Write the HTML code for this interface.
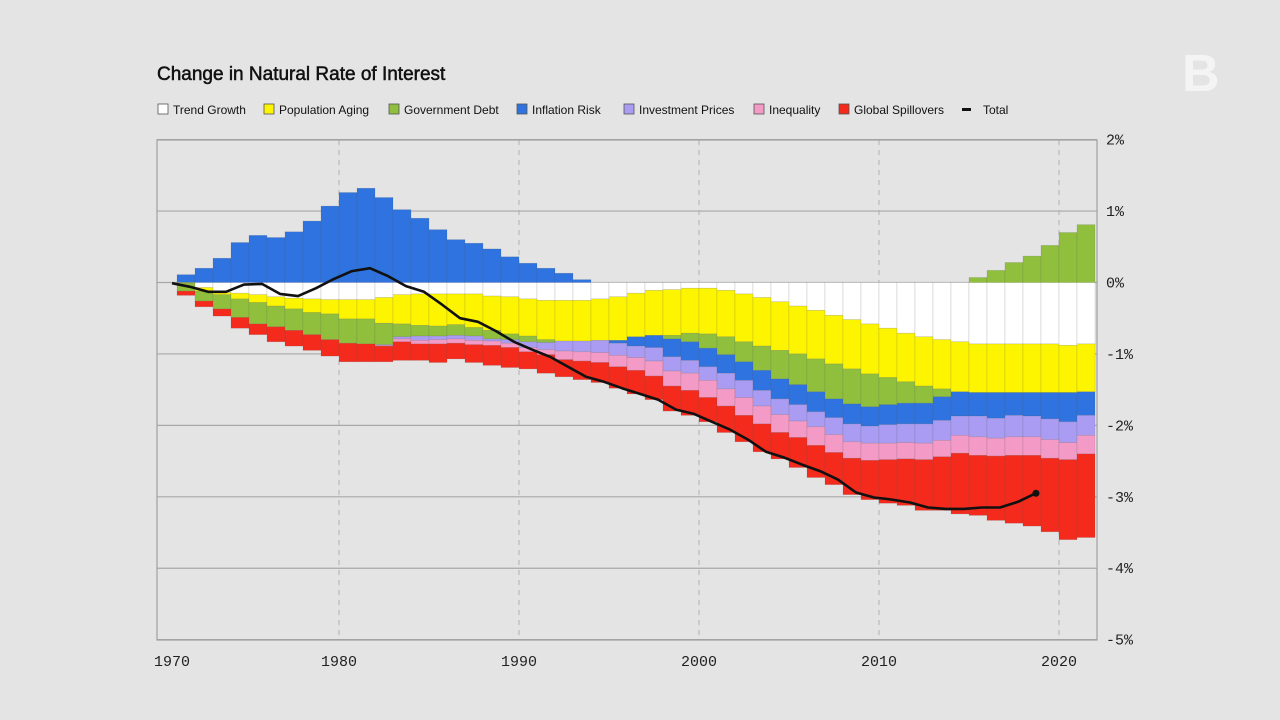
<!DOCTYPE html>
<html><head><meta charset="utf-8">
<style>
html,body{margin:0;padding:0;background:#e4e4e4;}
body{width:1280px;height:720px;overflow:hidden;position:relative;font-family:"Liberation Sans",sans-serif;}
svg{position:absolute;left:0;top:0;}
</style></head>
<body>
<svg id="chart" width="1280" height="720">
  <rect x="0" y="0" width="1280" height="720" fill="#e4e4e4"/>
  <text x="157" y="80" font-size="19" fill="#111" stroke="#111" stroke-width="0.5" font-family="Liberation Sans, sans-serif">Change in Natural Rate of Interest</text>
  <text x="1182" y="91" font-size="52" font-weight="bold" fill="#f4f4f4" font-family="Liberation Sans, sans-serif">B</text>
  <g id="legend"></g>
  <g id="grid"></g>
  <g id="bars"></g>
  <g id="line"></g>
  <g id="axes"></g>
</svg>
<script>
const years = [];
for (let y = 1971; y <= 2021; y++) years.push(y);
const seriesNames = ["Trend Growth","Population Aging","Government Debt","Inflation Risk","Investment Prices","Inequality","Global Spillovers"];
const seriesColors = ["#ffffff","#fdf500","#8fbf3c","#2e73df","#a99cf2","#f39ac6","#f42a1c"];
const trendGrowth = [0,-0.07,-0.14,-0.15,-0.17,-0.20,-0.22,-0.23,-0.24,-0.24,-0.24,-0.21,-0.17,-0.16,-0.16,-0.16,-0.16,-0.19,-0.20,-0.23,-0.25,-0.25,-0.25,-0.23,-0.20,-0.15,-0.11,-0.10,-0.08,-0.08,-0.11,-0.16,-0.21,-0.27,-0.33,-0.39,-0.46,-0.52,-0.58,-0.64,-0.71,-0.76,-0.80,-0.83,-0.86,-0.86,-0.86,-0.86,-0.86,-0.88,-0.86];
const populationAging = [-0.01,-0.05,-0.03,-0.08,-0.11,-0.13,-0.15,-0.19,-0.20,-0.27,-0.27,-0.36,-0.41,-0.44,-0.45,-0.43,-0.47,-0.48,-0.52,-0.52,-0.55,-0.57,-0.57,-0.58,-0.61,-0.61,-0.63,-0.64,-0.63,-0.64,-0.65,-0.67,-0.68,-0.68,-0.67,-0.68,-0.68,-0.69,-0.70,-0.69,-0.68,-0.69,-0.69,-0.70,-0.68,-0.68,-0.68,-0.68,-0.68,-0.66,-0.67];
const governmentDebt = [-0.11,-0.14,-0.20,-0.26,-0.30,-0.29,-0.30,-0.31,-0.36,-0.34,-0.35,-0.30,-0.18,-0.15,-0.14,-0.15,-0.12,-0.12,-0.08,-0.08,-0.04,0,0,0,0,0,0,-0.05,-0.12,-0.20,-0.25,-0.28,-0.34,-0.40,-0.43,-0.46,-0.49,-0.49,-0.46,-0.38,-0.30,-0.24,-0.11,0,0.07,0.17,0.28,0.37,0.52,0.70,0.81];
const inflationRisk = [0.11,0.20,0.34,0.56,0.66,0.63,0.71,0.86,1.07,1.26,1.32,1.19,1.02,0.90,0.74,0.60,0.55,0.47,0.36,0.27,0.20,0.13,0.04,0,-0.04,-0.13,-0.17,-0.25,-0.26,-0.26,-0.26,-0.26,-0.28,-0.28,-0.28,-0.28,-0.26,-0.28,-0.27,-0.28,-0.29,-0.29,-0.33,-0.34,-0.33,-0.36,-0.32,-0.33,-0.37,-0.41,-0.33];
const investmentPrices = [0,0,0,0,0,0,0,0,0,0,0,-0.01,-0.03,-0.06,-0.05,-0.05,-0.06,-0.03,-0.05,-0.08,-0.10,-0.14,-0.15,-0.17,-0.17,-0.16,-0.19,-0.20,-0.18,-0.19,-0.22,-0.24,-0.22,-0.22,-0.23,-0.21,-0.24,-0.25,-0.24,-0.26,-0.26,-0.27,-0.28,-0.27,-0.29,-0.28,-0.30,-0.29,-0.29,-0.29,-0.28];
const inequality = [0,0,0,0,0,0,0,0,0,0,0,-0.01,-0.04,-0.05,-0.06,-0.06,-0.06,-0.06,-0.06,-0.06,-0.07,-0.12,-0.13,-0.14,-0.16,-0.18,-0.21,-0.21,-0.24,-0.24,-0.24,-0.25,-0.25,-0.25,-0.23,-0.26,-0.25,-0.23,-0.24,-0.23,-0.23,-0.23,-0.23,-0.25,-0.26,-0.25,-0.26,-0.26,-0.26,-0.24,-0.26];
const globalSpillovers = [-0.06,-0.08,-0.10,-0.15,-0.15,-0.21,-0.22,-0.22,-0.23,-0.26,-0.25,-0.22,-0.26,-0.23,-0.26,-0.22,-0.25,-0.28,-0.28,-0.24,-0.26,-0.24,-0.26,-0.28,-0.30,-0.33,-0.33,-0.35,-0.35,-0.34,-0.37,-0.37,-0.39,-0.37,-0.42,-0.45,-0.45,-0.51,-0.55,-0.61,-0.65,-0.71,-0.75,-0.85,-0.84,-0.90,-0.95,-0.99,-1.03,-1.12,-1.17];
const totalYears = [];
for (let y = 1970; y <= 2018; y++) totalYears.push(y);
const totalValues = [-0.01,-0.06,-0.13,-0.13,-0.03,-0.02,-0.16,-0.19,-0.08,0.05,0.16,0.20,0.09,-0.05,-0.13,-0.31,-0.50,-0.55,-0.68,-0.83,-0.94,-1.04,-1.18,-1.32,-1.39,-1.48,-1.56,-1.64,-1.78,-1.84,-1.95,-2.06,-2.20,-2.37,-2.45,-2.55,-2.64,-2.76,-2.94,-3.01,-3.04,-3.08,-3.15,-3.17,-3.17,-3.15,-3.15,-3.07,-2.95];
const yTicks = [2,1,0,-1,-2,-3,-4,-5];
const yTickLabels = ["2%","1%","0%","-1%","-2%","-3%","-4%","-5%"];
const xTicks = [1970,1980,1990,2000,2010,2020];

const NS = "http://www.w3.org/2000/svg";
const L = 157, R = 1097, T = 140, B = 640;
const xS = yr => 159 + (yr - 1970) * 18;
const yS = v => 282.5 - v * 71.43;
function mk(tag, attrs, parent) {
  const e = document.createElementNS(NS, tag);
  for (const k in attrs) e.setAttribute(k, attrs[k]);
  parent.appendChild(e);
  return e;
}
const grid = document.getElementById('grid');
const axes = document.getElementById('axes');
yTicks.forEach((v, i) => {
  const y = yS(v);
  const ln = mk('line', {x1: L, x2: R, y1: y, y2: y, stroke: '#a8a8a8', 'stroke-width': 1.2}, grid);
  
  
  const t = mk('text', {x: 1106, y: y + 5, 'font-size': 15, fill: '#222', 'font-family': 'Liberation Mono, monospace'}, axes);
  t.textContent = yTickLabels[i];
  
  
});
xTicks.forEach(yr => {
  const x = xS(yr);
  if (yr > 1970) {
    const ln = mk('line', {x1: x, x2: x, y1: T, y2: B, stroke: '#b0b0b0', 'stroke-width': 1, 'stroke-dasharray': '5,5'}, grid);
    
    
  }
  const t = mk('text', {x: yr === 1970 ? 172 : x, y: 666, 'font-size': 15, fill: '#222', 'text-anchor': 'middle', 'font-family': 'Liberation Mono, monospace'}, axes);
  t.textContent = String(yr);
  
  
});
const frame = mk('rect', {x: L, y: T, width: R - L, height: B - T, fill: 'none', stroke: '#a0a0a0', 'stroke-width': 1.2}, axes);



const series = [trendGrowth, populationAging, governmentDebt, inflationRisk, investmentPrices, inequality, globalSpillovers];
const barsG = document.getElementById('bars');
years.forEach((yr, i) => {
  let pos = 0, neg = 0;
  const x0 = xS(yr), x1 = xS(yr + 1);
  series.forEach((s, k) => {
    const v = s[i];
    if (!v) return;
    let a, b;
    if (v > 0) { a = pos; b = pos + v; pos = b; } else { a = neg; b = neg + v; neg = b; }
    const ya = yS(a), yb = yS(b);
    const r = mk('rect', {x: x0, y: Math.min(ya, yb), width: x1 - x0, height: Math.abs(yb - ya), fill: seriesColors[k], stroke: 'rgba(90,90,90,0.25)', 'stroke-width': 0.6}, barsG);
    
    
  });
});

const lineG = document.getElementById('line');
const pts = totalYears.map((yr, i) => (xS(yr + 0.72)).toFixed(1) + ',' + yS(totalValues[i]).toFixed(1)).join(' ');
const pl = mk('polyline', {points: pts, fill: 'none', stroke: '#111', 'stroke-width': 2.6, 'stroke-linejoin': 'round'}, lineG);


const last = totalYears.length - 1;
const dot = mk('circle', {cx: xS(totalYears[last] + 0.72), cy: yS(totalValues[last]), r: 3.5, fill: '#111'}, lineG);



const legend = document.getElementById('legend');
const legX = [158, 264, 389, 517, 624, 754, 839];
seriesNames.forEach((n, k) => {
  const r = mk('rect', {x: legX[k], y: 104, width: 10, height: 10, fill: seriesColors[k], stroke: '#555', 'stroke-width': 0.8}, legend);
  
  
  const t = mk('text', {x: legX[k] + 15, y: 114, 'font-size': 12, fill: '#111', 'font-family': 'Liberation Sans, sans-serif'}, legend);
  t.textContent = n;
  
  
});
const tl = mk('rect', {x: 962, y: 108, width: 9, height: 3, fill: '#111'}, legend);


const tt = mk('text', {x: 983, y: 114, 'font-size': 12, fill: '#111', 'font-family': 'Liberation Sans, sans-serif'}, legend);
tt.textContent = 'Total';


</script>
</body></html>
